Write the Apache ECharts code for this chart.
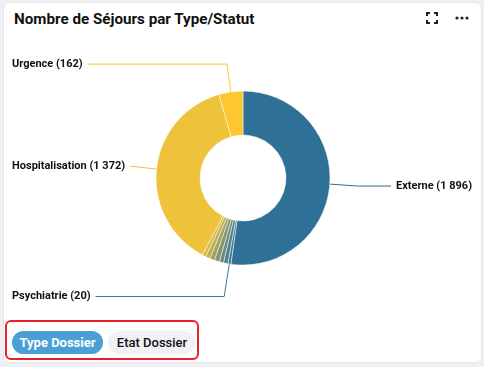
<!DOCTYPE html>
<html><head><meta charset="utf-8">
<script src="https://cdn.jsdelivr.net/npm/echarts@6/dist/echarts.min.js"></script>
<style>
html,body{margin:0;padding:0;width:484px;height:367px;background:#eef0f3;font-family:Roboto,"Noto Sans",sans-serif;overflow:hidden}
.card{position:absolute;left:3px;top:2px;width:477px;height:359px;background:#fff;border:1px solid #e3e5ea;border-radius:6px}
.title{position:absolute;left:14px;top:10px;font-size:15.2px;font-weight:700;color:#111}
#chart{position:absolute;left:0;top:40px;width:484px;height:275px}
.tabs{position:absolute;left:5px;top:320px;width:194px;height:40px;border:2px solid #e8202a;border-radius:6px;box-sizing:border-box}
.pill{position:absolute;top:9px;height:23px;line-height:23px;border-radius:12px;font-size:13px;text-align:center}
.p1{left:5px;width:91px;background:#4a9fd6;color:#fff;font-weight:700}
.p2{left:101px;width:88px;background:#f0f1f5;color:#111;font-weight:500}
</style></head>
<body>
<div class="card"></div>
<div class="title">Nombre de Séjours par Type/Statut</div>
<svg style="position:absolute;left:426px;top:12px" width="12" height="12" viewBox="0 0 12 12"><path d="M1 4V1h3M8 1h3v3M11 8v3H8M4 11H1V8" fill="none" stroke="#222" stroke-width="2"/></svg>
<svg style="position:absolute;left:455px;top:16px" width="14" height="4"><circle cx="2" cy="2" r="1.6" fill="#222"/><circle cx="7" cy="2" r="1.6" fill="#222"/><circle cx="12" cy="2" r="1.6" fill="#222"/></svg>
<div id="chart"></div>
<div class="tabs"><div class="pill p1">Type Dossier</div><div class="pill p2">Etat Dossier</div></div>
<script>
const categories = ['Externe','Psychiatrie','SSR','HAD','Ambulatoire','Séance','Consultation','Dialyse','Hospitalisation','Urgence'];
const values = [1896, 20, 30, 28, 35, 32, 30, 25, 1372, 162];
const showLabel = [true, true, false, false, false, false, false, false, true, true];
const colors = ['#2f7096','#3d7890','#4f8189','#678a7f','#869672','#a3a25f','#c2ae4d','#d9ba44','#eec23b','#fdc72f'];

function fmt(n){return String(n).replace(/\B(?=(\d{3})+(?!\d))/g,' ');}
const data = categories.map((c,i)=>({name:c,value:values[i],itemStyle:{color:colors[i]},
  label:{show:showLabel[i]},labelLine:{show:showLabel[i], length: i===1 ? 33 : 28}}));
const chart = echarts.init(document.getElementById('chart'),null,{renderer:'canvas'});
chart.setOption({
  animation:false,
  series:[{
    type:'pie',
    center:[243,138],
    radius:[43,87],
    startAngle:90,
    clockwise:true,
    avoidLabelOverlap:true,
    itemStyle:{borderColor:'#fff',borderWidth:0.5},
    label:{
      alignTo:'edge',edgeDistance:12,overflow:'none',
      formatter:p=>p.name+' ('+fmt(p.value)+')',
      fontFamily:'Roboto',fontSize:11,fontWeight:'bold',color:'#111'
    },
    labelLine:{length:28,length2:10,lineStyle:{width:1}},
    data:data
  }]
});
</script>
</body></html>
